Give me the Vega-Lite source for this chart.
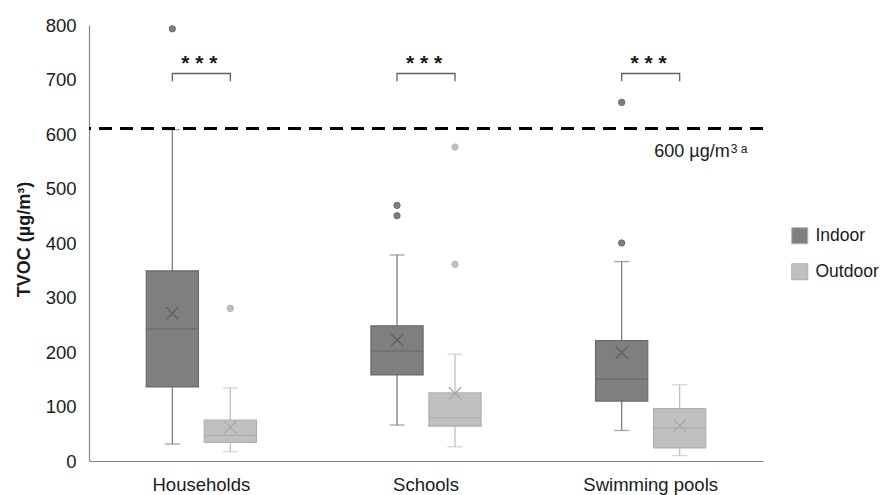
{
  "$schema": "https://vega.github.io/schema/vega-lite/v6.json",
  "width": 674,
  "height": 436,
  "autosize": {"type": "none"},
  "padding": {"left": 89, "top": 25, "right": 118, "bottom": 34},
  "config": {
    "view": {"stroke": null},
    "font": "Liberation Sans",
    "axis": {"grid": false, "ticks": false, "domainColor": "#868686", "domainWidth": 1.2, "labelColor": "#1a1a1a", "labelFontSize": 18.5, "labelFont": "Liberation Sans"},
    "axisX": {"labelPadding": 14, "labelAngle": 0},
    "axisY": {"labelPadding": 13, "values": [0, 100, 200, 300, 400, 500, 600, 700, 800], "titleFontSize": 18, "titleFontWeight": "bold", "titleColor": "#1a1a1a", "titleX": -65, "titleY": 214, "titleBaseline": "middle", "titleAngle": 270}
  },
  "datasets": {
    "stats": [
      {"site": "Households", "type": "Indoor", "min": 31, "q1": 136, "median": 242, "q3": 349, "max": 608, "mean": 271},
      {"site": "Households", "type": "Outdoor", "min": 17, "q1": 34, "median": 47, "q3": 75, "max": 134, "mean": 62},
      {"site": "Schools", "type": "Indoor", "min": 66, "q1": 158, "median": 202, "q3": 248, "max": 378, "mean": 222},
      {"site": "Schools", "type": "Outdoor", "min": 26, "q1": 64, "median": 79, "q3": 125, "max": 196, "mean": 124},
      {"site": "Swimming pools", "type": "Indoor", "min": 56, "q1": 110, "median": 150, "q3": 221, "max": 366, "mean": 199},
      {"site": "Swimming pools", "type": "Outdoor", "min": 10, "q1": 24, "median": 61, "q3": 96, "max": 140, "mean": 65}
    ],
    "outliers": [
      {"site": "Households", "type": "Indoor", "value": 793},
      {"site": "Households", "type": "Outdoor", "value": 280},
      {"site": "Schools", "type": "Indoor", "value": 469},
      {"site": "Schools", "type": "Indoor", "value": 450},
      {"site": "Schools", "type": "Outdoor", "value": 576},
      {"site": "Schools", "type": "Outdoor", "value": 361},
      {"site": "Swimming pools", "type": "Indoor", "value": 658},
      {"site": "Swimming pools", "type": "Indoor", "value": 400}
    ],
    "brackets": [
      {"site": "Households", "type": "Indoor", "y": 697, "ord": 1},
      {"site": "Households", "type": "Indoor", "y": 711, "ord": 2},
      {"site": "Households", "type": "Outdoor", "y": 711, "ord": 3},
      {"site": "Households", "type": "Outdoor", "y": 697, "ord": 4},
      {"site": "Schools", "type": "Indoor", "y": 697, "ord": 1},
      {"site": "Schools", "type": "Indoor", "y": 711, "ord": 2},
      {"site": "Schools", "type": "Outdoor", "y": 711, "ord": 3},
      {"site": "Schools", "type": "Outdoor", "y": 697, "ord": 4},
      {"site": "Swimming pools", "type": "Indoor", "y": 697, "ord": 1},
      {"site": "Swimming pools", "type": "Indoor", "y": 711, "ord": 2},
      {"site": "Swimming pools", "type": "Outdoor", "y": 711, "ord": 3},
      {"site": "Swimming pools", "type": "Outdoor", "y": 697, "ord": 4}
    ],
    "sig": [
      {"site": "Households", "label": "* * *", "y": 728},
      {"site": "Schools", "label": "* * *", "y": 728},
      {"site": "Swimming pools", "label": "* * *", "y": 728}
    ],
    "limit": [
      {"site": "Swimming pools", "value": 610, "label": "600 µg/m", "sup": "3 a"}
    ]
  },
  "layer": [
    {
      "data": {"name": "stats"},
      "mark": {"type": "rule", "strokeWidth": 1.3},
      "encoding": {
        "x": {"field": "site", "type": "nominal", "title": null, "sort": null, "scale": {"domain": ["Households", "Schools", "Swimming pools"], "paddingInner": 0, "paddingOuter": 0}},
        "xOffset": {"field": "type", "type": "nominal", "scale": {"domain": ["Indoor", "Outdoor"], "paddingInner": 0.1, "paddingOuter": 0.987}},
        "y": {"field": "min", "type": "quantitative", "title": "TVOC (µg/m³)", "scale": {"domain": [0, 800], "nice": false}},
        "y2": {"field": "max"},
        "color": {"condition": {"test": "datum.type === 'Indoor'", "value": "#7f7f7f"}, "value": "#c0c0c0"}
      }
    },
    {
      "data": {"name": "stats"},
      "mark": {"type": "tick", "size": 15, "thickness": 1.3},
      "encoding": {
        "x": {"field": "site", "type": "nominal", "title": null},
        "xOffset": {"field": "type", "type": "nominal"},
        "y": {"field": "min", "type": "quantitative", "title": "TVOC (µg/m³)"},
        "color": {"condition": {"test": "datum.type === 'Indoor'", "value": "#7f7f7f"}, "value": "#c0c0c0"}
      }
    },
    {
      "data": {"name": "stats"},
      "mark": {"type": "tick", "size": 15, "thickness": 1.3},
      "encoding": {
        "x": {"field": "site", "type": "nominal", "title": null},
        "xOffset": {"field": "type", "type": "nominal"},
        "y": {"field": "max", "type": "quantitative", "title": "TVOC (µg/m³)"},
        "color": {"condition": {"test": "datum.type === 'Indoor'", "value": "#7f7f7f"}, "value": "#c0c0c0"}
      }
    },
    {
      "data": {"name": "stats"},
      "mark": {"type": "bar", "strokeWidth": 1.2},
      "encoding": {
        "x": {"field": "site", "type": "nominal", "title": null},
        "xOffset": {"field": "type", "type": "nominal"},
        "y": {"field": "q1", "type": "quantitative", "title": "TVOC (µg/m³)"},
        "y2": {"field": "q3"},
        "color": {"field": "type", "type": "nominal", "scale": {"domain": ["Indoor", "Outdoor"], "range": ["#7f7f7f", "#c0c0c0"]}, "legend": {"title": null, "orient": "none", "legendX": 702, "legendY": 202, "symbolType": "square", "symbolSize": 256, "symbolStrokeWidth": 1, "labelFontSize": 17.5, "labelColor": "#1a1a1a", "labelOffset": 7, "rowPadding": 15}},
        "stroke": {"condition": {"test": "datum.type === 'Indoor'", "value": "#6b6b6b"}, "value": "#b0b0b0"}
      }
    },
    {
      "data": {"name": "stats"},
      "mark": {"type": "tick", "size": 52, "thickness": 1.5},
      "encoding": {
        "x": {"field": "site", "type": "nominal", "title": null},
        "xOffset": {"field": "type", "type": "nominal"},
        "y": {"field": "median", "type": "quantitative", "title": "TVOC (µg/m³)"},
        "color": {"condition": {"test": "datum.type === 'Indoor'", "value": "#666666"}, "value": "#a8a8a8"}
      }
    },
    {
      "data": {"name": "stats"},
      "mark": {"type": "point", "shape": "M-1,-1L1,1M-1,1L1,-1", "size": 150, "filled": false, "strokeWidth": 1.2, "opacity": 1},
      "encoding": {
        "x": {"field": "site", "type": "nominal", "title": null},
        "xOffset": {"field": "type", "type": "nominal"},
        "y": {"field": "mean", "type": "quantitative", "title": "TVOC (µg/m³)"},
        "color": {"condition": {"test": "datum.type === 'Indoor'", "value": "#5a5a5a"}, "value": "#a5a5a5"}
      }
    },
    {
      "data": {"name": "outliers"},
      "mark": {"type": "point", "shape": "circle", "size": 40, "filled": true, "opacity": 1, "strokeWidth": 1},
      "encoding": {
        "x": {"field": "site", "type": "nominal", "title": null},
        "xOffset": {"field": "type", "type": "nominal"},
        "y": {"field": "value", "type": "quantitative", "title": "TVOC (µg/m³)"},
        "fill": {"condition": {"test": "datum.type === 'Indoor'", "value": "#7f7f7f"}, "value": "#c0c0c0"},
        "stroke": {"condition": {"test": "datum.type === 'Indoor'", "value": "#6b6b6b"}, "value": "#b5b5b5"}
      }
    },
    {
      "data": {"name": "limit"},
      "mark": {"type": "rule", "strokeWidth": 3, "strokeDash": [13, 8], "color": "#000000"},
      "encoding": {
        "y": {"field": "value", "type": "quantitative", "title": "TVOC (µg/m³)"}
      }
    },
    {
      "data": {"name": "limit"},
      "mark": {"type": "text", "align": "right", "baseline": "alphabetic", "dx": 79, "dy": 28, "fontSize": 18, "color": "#1a1a1a"},
      "encoding": {
        "x": {"field": "site", "type": "nominal", "title": null},
        "y": {"field": "value", "type": "quantitative", "title": "TVOC (µg/m³)"},
        "text": {"field": "label"}
      }
    },
    {
      "data": {"name": "limit"},
      "mark": {"type": "text", "align": "left", "baseline": "alphabetic", "dx": 80, "dy": 24, "fontSize": 12, "color": "#1a1a1a"},
      "encoding": {
        "x": {"field": "site", "type": "nominal", "title": null},
        "y": {"field": "value", "type": "quantitative", "title": "TVOC (µg/m³)"},
        "text": {"field": "sup"}
      }
    },
    {
      "data": {"name": "brackets"},
      "mark": {"type": "line", "strokeWidth": 1.3, "color": "#5f5f5f", "interpolate": "linear"},
      "encoding": {
        "x": {"field": "site", "type": "nominal", "title": null},
        "xOffset": {"field": "type", "type": "nominal"},
        "y": {"field": "y", "type": "quantitative", "title": "TVOC (µg/m³)"},
        "detail": {"field": "site"},
        "order": {"field": "ord", "type": "quantitative"}
      }
    },
    {
      "data": {"name": "sig"},
      "mark": {"type": "text", "fontSize": 21, "fontWeight": "bold", "color": "#1a1a1a", "baseline": "middle", "dx": -2},
      "encoding": {
        "x": {"field": "site", "type": "nominal", "title": null},
        "y": {"field": "y", "type": "quantitative", "title": "TVOC (µg/m³)"},
        "text": {"field": "label"}
      }
    }
  ]
}
